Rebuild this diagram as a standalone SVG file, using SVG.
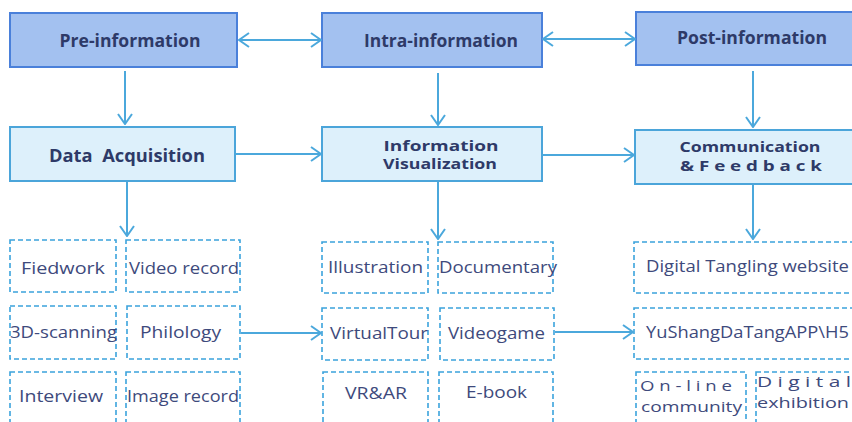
<svg xmlns="http://www.w3.org/2000/svg" width="852" height="422" viewBox="0 0 852 422">
  <style>
    .stage { fill: #A3C1F0; stroke: #4A80DA; stroke-width: 2; }
    .step { fill: #DDF0FB; stroke: #4BA5DA; stroke-width: 2; }
    .item { fill: none; stroke: #3BA3DC; stroke-width: 1.6; stroke-dasharray: 5 3; }
    .head { font-family: "Open Sans", "Noto Sans", sans-serif; font-weight: bold; font-size: 17px; fill: #2E3A68; text-anchor: middle; white-space: pre; }
    .head2 { font-size: 14px; }
    .lbl { font-family: "Open Sans", "Noto Sans", sans-serif; font-size: 17px; fill: #3E4A7C; }
    .lbl2 { font-size: 15px; }
    .link { fill: none; stroke: #4BA8DC; stroke-width: 2; }
  </style>
  <defs>
    <marker id="arrow" viewBox="0 0 12 16" refX="11" refY="8" markerWidth="12" markerHeight="16" markerUnits="userSpaceOnUse" orient="auto-start-reverse">
      <path d="M1,1 L11,8 L1,15" fill="none" stroke="#4BA8DC" stroke-width="2"/>
    </marker>
  </defs>
  <rect width="852" height="422" fill="#FFFFFF"/>

  <!-- stage row -->
  <g id="pre-information">
    <rect class="stage" x="10" y="13" width="227" height="54"/>
    <text class="head" x="130" y="47" textLength="141" lengthAdjust="spacingAndGlyphs">Pre-information</text>
  </g>
  <g id="intra-information">
    <rect class="stage" x="322" y="13" width="220" height="54"/>
    <text class="head" x="441" y="47" textLength="154" lengthAdjust="spacingAndGlyphs">Intra-information</text>
  </g>
  <g id="post-information">
    <rect class="stage" x="636" y="12" width="230" height="53"/>
    <text class="head" x="752" y="44" textLength="150" lengthAdjust="spacingAndGlyphs">Post-information</text>
  </g>

  <!-- process row -->
  <g id="data-acquisition">
    <rect class="step" x="10" y="127" width="225" height="54"/>
    <text class="head" x="127" y="162" textLength="156" lengthAdjust="spacingAndGlyphs">Data  Acquisition</text>
  </g>
  <g id="information-visualization">
    <rect class="step" x="322" y="127" width="220" height="54"/>
    <text class="head head2" x="441" y="151" textLength="115" lengthAdjust="spacingAndGlyphs">Information</text>
    <text class="head head2" x="440" y="169" textLength="114" lengthAdjust="spacingAndGlyphs">Visualization</text>
  </g>
  <g id="communication-feedback">
    <rect class="step" x="635" y="130" width="230" height="54"/>
    <text class="head head2" x="750" y="152" textLength="141" lengthAdjust="spacingAndGlyphs">Communication</text>
    <text class="head head2" x="751" y="171" textLength="142" lengthAdjust="spacingAndGlyphs">&amp; F e e d b a c k</text>
  </g>

  <!-- acquisition methods -->
  <g id="fiedwork">
    <rect class="item" x="10" y="240" width="106" height="52"/>
    <text class="lbl" x="21" y="274" textLength="84" lengthAdjust="spacingAndGlyphs">Fiedwork</text>
  </g>
  <g id="video-record">
    <rect class="item" x="126" y="240" width="114" height="52"/>
    <text class="lbl" x="129" y="274" textLength="110" lengthAdjust="spacingAndGlyphs">Video record</text>
  </g>
  <g id="scanning">
    <rect class="item" x="10" y="306" width="106" height="53"/>
    <text class="lbl" x="10" y="338" textLength="107" lengthAdjust="spacingAndGlyphs">3D-scanning</text>
  </g>
  <g id="philology">
    <rect class="item" x="127" y="306" width="113" height="53"/>
    <text class="lbl" x="140" y="338" textLength="81" lengthAdjust="spacingAndGlyphs">Philology</text>
  </g>
  <g id="interview">
    <rect class="item" x="10" y="372" width="106" height="60"/>
    <text class="lbl" x="19" y="402" textLength="84" lengthAdjust="spacingAndGlyphs">Interview</text>
  </g>
  <g id="image-record">
    <rect class="item" x="126" y="372" width="114" height="60"/>
    <text class="lbl" x="127" y="402" textLength="112" lengthAdjust="spacingAndGlyphs">Image record</text>
  </g>

  <!-- visualization forms -->
  <g id="illustration">
    <rect class="item" x="322" y="242" width="106" height="51"/>
    <text class="lbl" x="328" y="273" textLength="95" lengthAdjust="spacingAndGlyphs">Illustration</text>
  </g>
  <g id="documentary">
    <rect class="item" x="438" y="242" width="115" height="51"/>
    <text class="lbl" x="439" y="273" textLength="118" lengthAdjust="spacingAndGlyphs">Documentary</text>
  </g>
  <g id="virtual-tour">
    <rect class="item" x="322" y="308" width="106" height="52"/>
    <text class="lbl" x="330" y="339" textLength="98" lengthAdjust="spacingAndGlyphs">VirtualTour</text>
  </g>
  <g id="videogame">
    <rect class="item" x="440" y="308" width="114" height="52"/>
    <text class="lbl" x="448" y="339" textLength="97" lengthAdjust="spacingAndGlyphs">Videogame</text>
  </g>
  <g id="vr-ar">
    <rect class="item" x="323" y="372" width="105" height="60"/>
    <text class="lbl" x="345" y="399" textLength="62" lengthAdjust="spacingAndGlyphs">VR&amp;AR</text>
  </g>
  <g id="e-book">
    <rect class="item" x="439" y="372" width="114" height="60"/>
    <text class="lbl" x="466" y="398" textLength="61" lengthAdjust="spacingAndGlyphs">E-book</text>
  </g>

  <!-- communication channels -->
  <g id="digital-tangling-website">
    <rect class="item" x="634" y="242" width="230" height="51"/>
    <text class="lbl" x="646" y="272" textLength="203" lengthAdjust="spacingAndGlyphs">Digital Tangling website</text>
  </g>
  <g id="yushangdatang-app">
    <rect class="item" x="634" y="308" width="230" height="51"/>
    <text class="lbl" x="646" y="338" textLength="203" lengthAdjust="spacingAndGlyphs">YuShangDaTangAPP\H5</text>
  </g>
  <g id="online-community">
    <rect class="item" x="636" y="372" width="110" height="60"/>
    <text class="lbl lbl2" x="640" y="391" textLength="92" lengthAdjust="spacingAndGlyphs">O n - l i n e</text>
    <text class="lbl lbl2" x="641" y="412" textLength="101" lengthAdjust="spacingAndGlyphs">community</text>
  </g>
  <g id="digital-exhibition">
    <rect class="item" x="756" y="372" width="110" height="60"/>
    <text class="lbl lbl2" x="757" y="387" textLength="94" lengthAdjust="spacingAndGlyphs">D i g i t a l</text>
    <text class="lbl lbl2" x="757" y="408" textLength="92" lengthAdjust="spacingAndGlyphs">exhibition</text>
  </g>

  <!-- connectors -->
  <g id="connectors">
    <line class="link" x1="239" y1="40" x2="321" y2="40" marker-start="url(#arrow)" marker-end="url(#arrow)"/>
    <line class="link" x1="543" y1="39" x2="635" y2="39" marker-start="url(#arrow)" marker-end="url(#arrow)"/>
    <line class="link" x1="125" y1="71" x2="125" y2="124" marker-end="url(#arrow)"/>
    <line class="link" x1="438" y1="73" x2="438" y2="125" marker-end="url(#arrow)"/>
    <line class="link" x1="753" y1="71" x2="753" y2="127" marker-end="url(#arrow)"/>
    <line class="link" x1="235" y1="154" x2="321" y2="154" marker-end="url(#arrow)"/>
    <line class="link" x1="542" y1="155" x2="634" y2="155" marker-end="url(#arrow)"/>
    <line class="link" x1="127" y1="182" x2="127" y2="236" marker-end="url(#arrow)"/>
    <line class="link" x1="438" y1="182" x2="438" y2="239" marker-end="url(#arrow)"/>
    <line class="link" x1="753" y1="185" x2="753" y2="239" marker-end="url(#arrow)"/>
    <line class="link" x1="241" y1="333" x2="321" y2="333" marker-end="url(#arrow)"/>
    <line class="link" x1="555" y1="332" x2="633" y2="332" marker-end="url(#arrow)"/>
  </g>
</svg>
